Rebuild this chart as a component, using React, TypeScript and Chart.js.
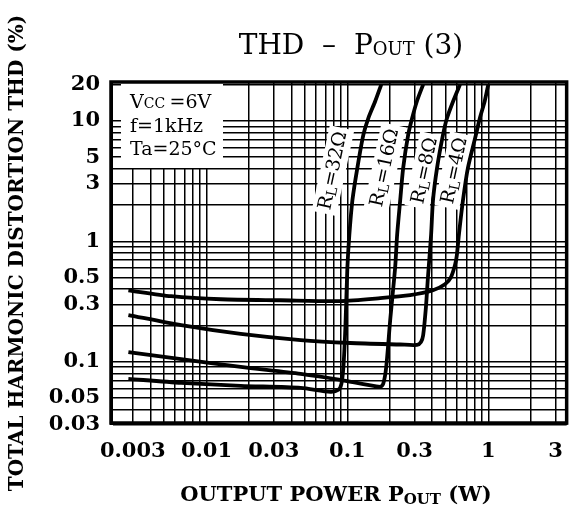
import React, { useEffect, useRef } from 'react';
import { Chart, registerables } from 'chart.js';

Chart.register(...registerables);

// ---- axis ranges & ticks ----
const X_MIN = 0.0021;
const X_MAX = 3.6;
const Y_MIN = 0.031;
const Y_MAX = 21;
const X_TICK_LABELS = [0.003, 0.01, 0.03, 0.1, 0.3, 1, 3];
const Y_TICK_LABELS = [0.03, 0.05, 0.1, 0.3, 0.5, 1, 3, 5, 10, 20];
const X_GRID = [
  0.003, 0.004, 0.005, 0.006, 0.007, 0.008, 0.009,
  0.01, 0.02, 0.03, 0.04, 0.05, 0.06, 0.07, 0.08, 0.09,
  0.1, 0.2, 0.3, 0.4, 0.5, 0.6, 0.7, 0.8, 0.9,
  1, 2, 3,
];
const Y_GRID = [
  0.03, 0.04, 0.05, 0.06, 0.07, 0.08, 0.09,
  0.1, 0.2, 0.3, 0.4, 0.5, 0.6, 0.7, 0.8, 0.9,
  1, 2, 3, 4, 5, 6, 7, 8, 9,
  10, 20,
];

// ---- series (Pout in W, THD in %) ----
const RL4_X = [0.00279, 0.00561, 0.01266, 0.0336, 0.0892, 0.171, 0.279, 0.405, 0.493, 0.543, 0.58, 0.598, 0.619, 0.661, 0.717, 0.817, 0.871, 0.944, 1.0];
const RL4_Y = [0.392, 0.35, 0.33, 0.324, 0.319, 0.337, 0.357, 0.392, 0.44, 0.502, 0.631, 0.763, 1.14, 2.18, 4.07, 7.64, 10.5, 14.6, 20];

const RL8_X = [0.00279, 0.00661, 0.0175, 0.0466, 0.105, 0.237, 0.312, 0.333, 0.345, 0.361, 0.373, 0.393, 0.405, 0.433, 0.477, 0.509, 0.564, 0.63];
const RL8_Y = [0.244, 0.201, 0.17, 0.151, 0.143, 0.139, 0.138, 0.146, 0.166, 0.284, 0.502, 1.14, 2.18, 4.07, 7.64, 10.5, 14.6, 20];

const RL16_X = [0.00279, 0.00661, 0.0175, 0.0466, 0.0892, 0.171, 0.1797, 0.1887, 0.2013, 0.2183, 0.2256, 0.237, 0.249, 0.27, 0.288, 0.312, 0.345];
const RL16_Y = [0.12, 0.105, 0.0906, 0.0793, 0.0708, 0.0619, 0.0656, 0.0906, 0.2215, 0.607, 1.14, 2.18, 4.07, 7.64, 10.5, 14.6, 20];

const RL32_X = [0.00279, 0.00661, 0.0175, 0.0466, 0.0758, 0.0864, 0.0907, 0.0937, 0.0968, 0.1, 0.1033, 0.1085, 0.1177, 0.1298, 0.1407, 0.1578, 0.174];
const RL32_Y = [0.0721, 0.0668, 0.0631, 0.0607, 0.0563, 0.0585, 0.0656, 0.0906, 0.194, 0.607, 1.14, 2.18, 4.07, 7.64, 10.5, 14.6, 20];

// curve labels: load value and anchor (data coordinates)
const RL_NAMES = ['32Ω', '16Ω', '8Ω', '4Ω'];
const RL_LABEL_X = [0.0796, 0.1857, 0.356, 0.58];
const RL_LABEL_Y = [3.85, 4.07, 3.85, 3.85];

const CONDITIONS = ['=6V', 'f=1kHz', 'Ta=25°C'];

const SERIF = '"DejaVu Serif", serif';

type Run = { text: string; font: string; dy?: number };

function runsWidth(ctx: CanvasRenderingContext2D, runs: Run[]) {
  let w = 0;
  for (const r of runs) {
    ctx.font = r.font;
    w += ctx.measureText(r.text).width;
  }
  return w;
}

function drawRuns(ctx: CanvasRenderingContext2D, runs: Run[], x: number, y: number, center: boolean) {
  let cx = center ? x - runsWidth(ctx, runs) / 2 : x;
  ctx.textAlign = 'left';
  for (const r of runs) {
    ctx.font = r.font;
    ctx.fillText(r.text, cx, y + (r.dy || 0));
    cx += ctx.measureText(r.text).width;
  }
}

const fmt = (v: number) => String(v);

const textPlugin = {
  id: 'thdText',
  beforeDatasetsDraw(chart: any) {
    const { ctx, chartArea, scales } = chart;
    ctx.save();
    // conditions box
    ctx.fillStyle = '#fff';
    ctx.fillRect(chartArea.left + 10, chartArea.top + 1, 102, 85);
    ctx.fillStyle = '#000';
    ctx.textBaseline = 'alphabetic';
    const tx = chartArea.left + 19;
    drawRuns(ctx, [
      { text: 'V', font: `19px ${SERIF}` },
      { text: 'CC ', font: `14px ${SERIF}` },
      { text: CONDITIONS[0], font: `19px ${SERIF}` },
    ], tx, chartArea.top + 26, false);
    drawRuns(ctx, [{ text: CONDITIONS[1], font: `19px ${SERIF}` }], tx, chartArea.top + 50, false);
    drawRuns(ctx, [{ text: CONDITIONS[2], font: `19px ${SERIF}` }], tx, chartArea.top + 73, false);

    // curve labels
    for (let i = 0; i < RL_NAMES.length; i++) {
      const px = scales.x.getPixelForValue(RL_LABEL_X[i]);
      const py = scales.y.getPixelForValue(RL_LABEL_Y[i]);
      const runs: Run[] = [
        { text: 'R', font: `19px ${SERIF}` },
        { text: 'L', font: `14px ${SERIF}`, dy: 4 },
        { text: '=' + RL_NAMES[i], font: `19px ${SERIF}` },
      ];
      const w = runsWidth(ctx, runs);
      ctx.save();
      ctx.translate(px, py);
      ctx.rotate((-78 * Math.PI) / 180);
      ctx.fillStyle = '#fff';
      ctx.fillRect(-w / 2 - 4, -13, w + 8, 25);
      ctx.fillStyle = '#000';
      ctx.textBaseline = 'middle';
      drawRuns(ctx, runs, 0, 0, true);
      ctx.restore();
    }
    ctx.restore();
  },
  afterDraw(chart: any) {
    const { ctx, chartArea } = chart;
    ctx.save();
    ctx.strokeStyle = '#000';
    ctx.lineWidth = 3.5;
    ctx.strokeRect(chartArea.left, chartArea.top, chartArea.right - chartArea.left, chartArea.bottom - chartArea.top);

    ctx.fillStyle = '#000';
    ctx.textBaseline = 'alphabetic';
    // title
    drawRuns(ctx, [
      { text: 'THD  –  P', font: `28px ${SERIF}` },
      { text: 'OUT', font: `18px ${SERIF}`, dy: 1 },
      { text: ' (3)', font: `28px ${SERIF}` },
    ], 351, 54, true);
    // x title
    drawRuns(ctx, [
      { text: 'OUTPUT POWER P', font: `bold 21px ${SERIF}` },
      { text: 'OUT', font: `bold 15px ${SERIF}`, dy: 3 },
      { text: ' (W)', font: `bold 21px ${SERIF}` },
    ], 336, 501, true);
    // y title
    ctx.save();
    ctx.translate(18, 253);
    ctx.rotate(-Math.PI / 2);
    ctx.textBaseline = 'middle';
    drawRuns(ctx, [{ text: 'TOTAL HARMONIC DISTORTION THD (%)', font: `bold 20px ${SERIF}` }], 0, 0, true);
    ctx.restore();
    ctx.restore();
  },
};

const toPoints = (xs: number[], ys: number[]) => xs.map((x, i) => ({ x, y: ys[i] }));

export default function App() {
  const ref = useRef<HTMLCanvasElement>(null);
  useEffect(() => {
    if (!ref.current) return;
    const mk = (label: string, xs: number[], ys: number[]) => ({
      label,
      data: toPoints(xs, ys),
      borderColor: '#000',
      backgroundColor: '#000',
      borderWidth: 3.8,
      pointRadius: 0,
      tension: 0.25,
      fill: false,
    });
    const chart = new Chart(ref.current, {
      type: 'line',
      data: {
        datasets: [
          mk('RL=4Ω', RL4_X, RL4_Y),
          mk('RL=8Ω', RL8_X, RL8_Y),
          mk('RL=16Ω', RL16_X, RL16_Y),
          mk('RL=32Ω', RL32_X, RL32_Y),
        ],
      },
      options: {
        animation: false,
        responsive: false,
        devicePixelRatio: 1,
        layout: { padding: { top: 82, right: 8, left: 0, bottom: 0 } },
        plugins: { legend: { display: false }, tooltip: { enabled: false }, title: { display: false } },
        scales: {
          x: {
            type: 'logarithmic',
            min: X_MIN,
            max: X_MAX,
            afterBuildTicks: (s: any) => { s.ticks = X_GRID.map((v) => ({ value: v })); },
            afterFit: (s: any) => { s.height = 90; },
            grid: { color: '#000', lineWidth: 1.5, drawTicks: false },
            border: { display: true, color: '#000', width: 3 },
            ticks: {
              autoSkip: false,
              maxRotation: 0,
              padding: 16,
              color: '#000',
              font: { family: SERIF, size: 21, weight: 'bold' },
              callback: (v: any) => (X_TICK_LABELS.includes(Number(v)) ? fmt(Number(v)) : ''),
            },
          },
          y: {
            type: 'logarithmic',
            min: Y_MIN,
            max: Y_MAX,
            afterBuildTicks: (s: any) => { s.ticks = Y_GRID.map((v) => ({ value: v })); },
            afterFit: (s: any) => { s.width = 111; },
            grid: { color: '#000', lineWidth: 1.5, drawTicks: false },
            border: { display: true, color: '#000', width: 3 },
            ticks: {
              autoSkip: false,
              padding: 11,
              color: '#000',
              font: { family: SERIF, size: 21, weight: 'bold' },
              callback: (v: any) => (Y_TICK_LABELS.includes(Number(v)) ? fmt(Number(v)) : ''),
            },
          },
        },
      },
      plugins: [textPlugin],
    });
    return () => chart.destroy();
  }, []);
  return (
    <div style={{ position: 'absolute', left: 0, top: 0, width: 579, height: 513, background: '#fff' }}>
      <canvas ref={ref} width={579} height={513} />
    </div>
  );
}
